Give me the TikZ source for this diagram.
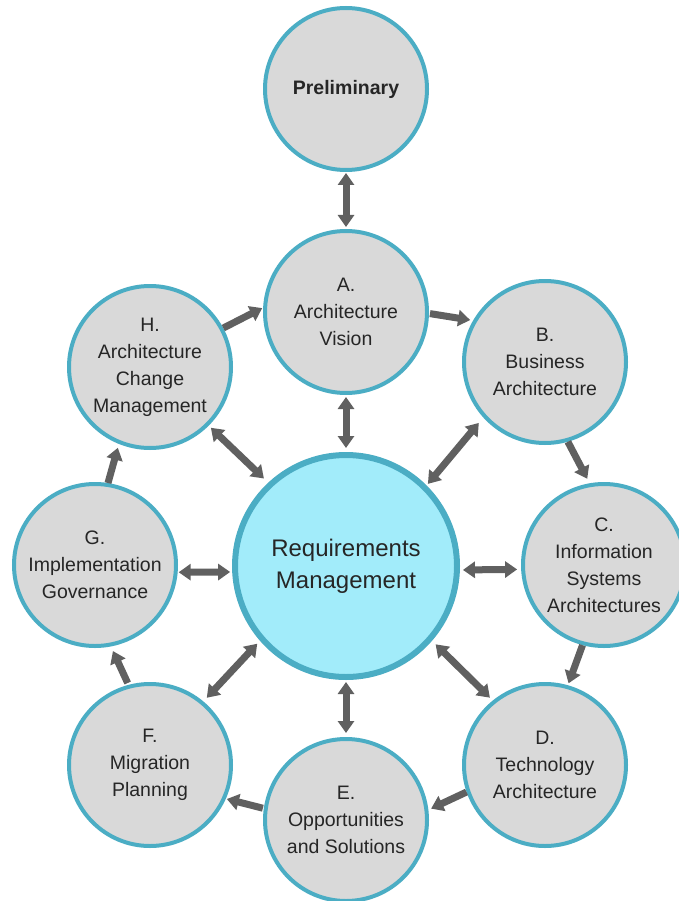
\documentclass[tikz,border=0pt]{standalone}
\usepackage{fontspec}
\setmainfont{Liberation Sans}
\usetikzlibrary{arrows.meta}
\definecolor{ringteal}{HTML}{4BADC4}
\definecolor{phasegray}{HTML}{D9D9D9}
\definecolor{coreblue}{HTML}{A2ECFA}
\definecolor{flowgray}{HTML}{606060}
\definecolor{labelink}{HTML}{262626}

\begin{document}
\begin{tikzpicture}[x=1pt,y=-1pt,
  phase/.style={circle, draw=ringteal, line width=4pt, fill=phasegray,
    minimum size=162pt, inner sep=0pt, align=center, text=labelink,
    font=\fontsize{19.5}{27}\selectfont},
  core/.style={circle, draw=ringteal, line width=6pt, fill=coreblue,
    minimum size=222pt, inner sep=0pt, align=center, text=labelink,
    font=\fontsize{24}{32}\selectfont},
  flow/.style={draw=flowgray, line width=7pt,
    -{Triangle[width=16pt,length=12pt]}},
  both/.style={draw=flowgray, line width=7pt,
    {Triangle[width=16pt,length=12pt]}-{Triangle[width=16pt,length=12pt]}},
]
% page area
\fill[white] (0,0) rectangle (679,901);
\useasboundingbox (0,0) rectangle (679,901);

% phases of the cycle
\node[phase, font=\bfseries\fontsize{19.5}{27}\selectfont] (prelim) at (346,89) {Preliminary};
\node[phase] (A) at (346,312) {A.\\Architecture\\Vision};
\node[phase] (B) at (545,362) {B.\\Business\\Architecture};
\node[phase] (C) at (604,565) {C.\\Information\\Systems\\Architectures};
\node[phase] (D) at (545,765) {D.\\Technology\\Architecture};
\node[phase] (E) at (346,820) {E.\\Opportunities\\and Solutions};
\node[phase] (F) at (150,765) {F.\\Migration\\Planning};
\node[phase] (G) at (95,565) {G.\\Implementation\\Governance};
\node[phase] (H) at (150,367) {H.\\Architecture\\Change\\Management};

% hub
\node[core] (req) at (346,566) {Requirements\\Management};

% cycle A -> H
\draw[flow, shorten <=1pt, shorten >=3pt] (A.-1) -- (B.150);
\draw[flow, shorten <=0pt, shorten >=5pt] (B.-74) -- (C.100);
\draw[flow, shorten <=0pt, shorten >=2pt] (C.-105) -- (D.74);
\draw[flow, shorten <=0pt, shorten >=3pt] (D.199) -- (E.7);
\draw[flow, shorten <=1pt, shorten >=1pt] (E.172) -- (F.-24);
\draw[flow, shorten <=2pt, shorten >=5pt] (F.105) -- (G.-79);
\draw[flow, shorten <=0pt, shorten >=4pt] (G.81) -- (H.248);
\draw[flow, shorten <=0pt, shorten >=1pt] (H.28) -- (A.177);

% links to the hub
\draw[both, shorten <=1pt, shorten >=2pt] (prelim.-90) -- (A.90);
\draw[both, shorten <=2pt, shorten >=4pt] (A.-90) -- (req.90);
\draw[both, shorten <=7pt, shorten >=2pt] (B.222) -- (req.45);
\draw[both, shorten <=4pt, shorten >=3pt] (C.183) -- (req.-2);
\draw[both, shorten <=4pt, shorten >=5pt] (D.129) -- (req.-41);
\draw[both, shorten <=4pt, shorten >=2pt] (E.90) -- (req.-90);
\draw[both, shorten <=5pt, shorten >=4pt] (F.50) -- (req.221);
\draw[both, shorten <=1pt, shorten >=2pt] (G.-5) -- (req.183);
\draw[both, shorten <=3pt, shorten >=6pt] (H.-45) -- (req.133);
\end{tikzpicture}
\end{document}
